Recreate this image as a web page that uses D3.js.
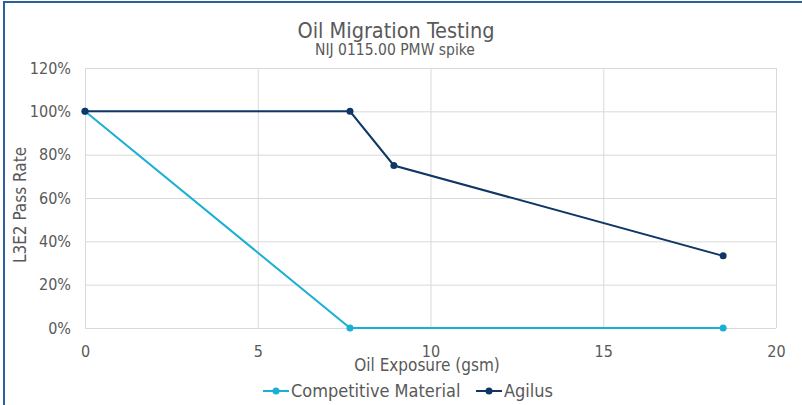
<!DOCTYPE html>
<html>
<head>
<meta charset="utf-8">
<script src="https://cdn.jsdelivr.net/npm/d3@7"></script>
<style>
    body { margin: 0; background: #fff; }
    svg text { font-family: "DejaVu Sans Condensed", "Liberation Sans Narrow", "DejaVu Sans", sans-serif; fill: #595959; }
    .grid line { stroke: #d9d9d9; stroke-width: 1; }
    .grid path { display: none; }
</style>
</head>
<body>
<script>
// series values
var seriesNames = ["Competitive Material", "Agilus"];
var competitiveX = [0, 7.67, 18.47];
var competitiveY = [1.0, 0, 0];
var agilusX = [0, 7.67, 8.94, 18.47];
var agilusY = [1.0, 1.0, 0.75, 0.333];
var xTicks = [0, 5, 10, 15, 20];
var yTicks = [0, 0.2, 0.4, 0.6, 0.8, 1.0, 1.2];
var colors = ["#1ab0d4", "#0f3765"];

var W = 802, H = 405;
var margin = {top: 68, right: 26, bottom: 77, left: 85},
    width = W - margin.left - margin.right,
    height = H - margin.top - margin.bottom;

var svg = d3.select("body").append("svg")
    .attr("width", W)
    .attr("height", H);

// outer frame of the chart
svg.append("rect")
    .attr("x", 4).attr("y", 2)
    .attr("width", W + 10).attr("height", H + 10)
    .attr("fill", "#fff")
    .attr("stroke", "#2f5f9e")
    .attr("stroke-width", 2);

var g = svg.append("g")
    .attr("transform", "translate(" + margin.left + "," + margin.top + ")");

var x = d3.scaleLinear().domain([0, 20]).range([0, width]);
var y = d3.scaleLinear().domain([0, 1.2]).range([height, 0]);

// gridlines
g.append("g")
    .attr("class", "grid")
    .call(d3.axisLeft(y).tickValues(yTicks).tickSize(-width).tickFormat(""));
g.append("g")
    .attr("class", "grid")
    .attr("transform", "translate(0," + height + ")")
    .call(d3.axisBottom(x).tickValues(xTicks).tickSize(-height).tickFormat(""));

// tick labels
var yAxis = g.append("g")
    .call(d3.axisLeft(y).tickValues(yTicks).tickSize(0).tickPadding(14).tickFormat(d3.format(".0%")));
yAxis.select(".domain").remove();
yAxis.selectAll("text").style("font-size", "16px");

var xAxis = g.append("g")
    .attr("transform", "translate(0," + height + ")")
    .call(d3.axisBottom(x).tickValues(xTicks).tickSize(0).tickPadding(18));
xAxis.select(".domain").remove();
xAxis.selectAll("text").style("font-size", "16px");

// lines and markers
var series = [
    {name: seriesNames[0], xs: competitiveX, ys: competitiveY, color: colors[0]},
    {name: seriesNames[1], xs: agilusX, ys: agilusY, color: colors[1]}
];

var line = d3.line()
    .x(function(d) { return x(d[0]); })
    .y(function(d) { return y(d[1]); });

series.forEach(function(s) {
    var pts = s.xs.map(function(v, i) { return [v, s.ys[i]]; });
    g.append("path")
        .datum(pts)
        .attr("fill", "none")
        .attr("stroke", s.color)
        .attr("stroke-width", 2)
        .attr("d", line);
    g.selectAll(null)
        .data(pts)
        .enter().append("circle")
        .attr("cx", function(d) { return x(d[0]); })
        .attr("cy", function(d) { return y(d[1]); })
        .attr("r", 3.5)
        .attr("fill", s.color);
});

// titles
svg.append("text")
    .attr("x", 396).attr("y", 38)
    .attr("text-anchor", "middle")
    .style("font-size", "21.5px")
    .text("Oil Migration Testing");
svg.append("text")
    .attr("x", 395).attr("y", 55)
    .attr("text-anchor", "middle")
    .style("font-size", "15.5px")
    .text("NIJ 0115.00 PMW spike");

svg.append("text")
    .attr("transform", "translate(26,205) rotate(-90)")
    .attr("text-anchor", "middle")
    .style("font-size", "17px")
    .text("L3E2 Pass Rate");

svg.append("text")
    .attr("x", 427).attr("y", 371)
    .attr("text-anchor", "middle")
    .style("font-size", "17px")
    .text("Oil Exposure (gsm)");

// legend
var legendX = [263, 476];
var legend = svg.selectAll(".legend")
    .data(series)
    .enter().append("g")
    .attr("class", "legend")
    .attr("transform", function(d, i) { return "translate(" + legendX[i] + ",391)"; });

legend.append("line")
    .attr("x1", 0).attr("x2", 26)
    .attr("stroke", function(d) { return d.color; })
    .attr("stroke-width", 2);
legend.append("circle")
    .attr("cx", 13).attr("r", 3.5)
    .attr("fill", function(d) { return d.color; });
legend.append("text")
    .attr("x", 28).attr("y", 6)
    .style("font-size", "18px")
    .text(function(d) { return d.name; });
</script>
</body>
</html>
